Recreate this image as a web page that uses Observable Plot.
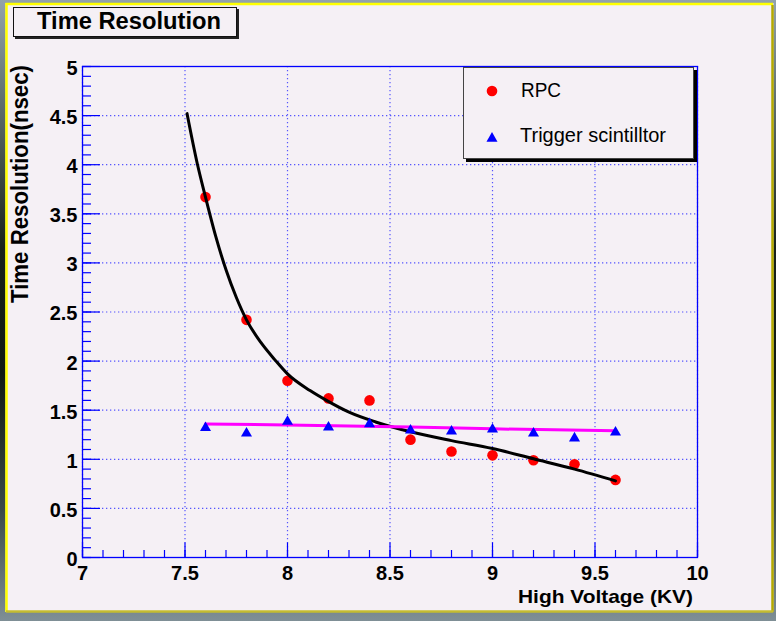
<!DOCTYPE html>
<html><head><meta charset="utf-8">
<script src="https://cdn.jsdelivr.net/npm/d3@7"></script>
<script src="https://cdn.jsdelivr.net/npm/@observablehq/plot@0.6"></script>
<style>
html,body{margin:0;padding:0;}
#wrap{position:relative;width:776px;height:621px;overflow:hidden;
background:linear-gradient(180deg,#93a3ab 0%,#5a6a68 18%,#18221a 40%,#101a12 60%,#3a4a48 82%,#7f8f96 100%);}
#wrap svg{position:absolute;left:0;top:0;}
</style></head><body><div id="wrap"></div>
<script>
// ---- data ----
const voltages = [7.6, 7.8, 8.0, 8.2, 8.4, 8.6, 8.8, 9.0, 9.2, 9.4, 9.6];
const rpcRes   = [3.67, 2.42, 1.80, 1.62, 1.60, 1.20, 1.08, 1.04, 0.99, 0.95, 0.79];
const trigRes  = [1.335, 1.28, 1.40, 1.34, 1.375, 1.31, 1.30, 1.32, 1.28, 1.23, 1.29];
const rpcFitX  = [7.51, 7.56, 7.60, 7.65, 7.70, 7.75, 7.80, 7.87, 7.94, 8.0, 8.11, 8.19, 8.30, 8.43, 8.60, 8.80, 9.0, 9.2, 9.4, 9.6];
const rpcFitY  = [4.52, 4.01, 3.67, 3.27, 2.93, 2.65, 2.42, 2.19, 2.01, 1.87, 1.70, 1.60, 1.48, 1.38, 1.28, 1.19, 1.11, 1.005, 0.90, 0.78];
const trigFitX = [7.6, 8.0, 8.6, 9.0, 9.6];
const trigFitY = [1.36, 1.35, 1.33, 1.31, 1.29];
const xMajor = [7, 7.5, 8, 8.5, 9, 9.5, 10];
const yMajor = [0, 0.5, 1, 1.5, 2, 2.5, 3, 3.5, 4, 4.5, 5];
const xTickLabels = ["7", "7.5", "8", "8.5", "9", "9.5", "10"];
const yTickLabels = ["0", "0.5", "1", "1.5", "2", "2.5", "3", "3.5", "4", "4.5", "5"];
const seriesNames = ["RPC", "Trigger scintilltor"];
const titleText = "Time Resolution";
const xTitle = "High Voltage (KV)";
const yTitle = "Time Resolution(nsec)";

const xMinor = d3.range(70, 101).map(d => d / 10);
const yMinor = d3.range(0, 51).map(d => d / 10);

const rpc = voltages.map((v, i) => ({x: v, y: rpcRes[i]}));
const trig = voltages.map((v, i) => ({x: v, y: trigRes[i]}));
const rpcFit = rpcFitX.map((v, i) => ({x: v, y: rpcFitY[i]}));
const trigFit = trigFitX.map((v, i) => ({x: v, y: trigFitY[i]}));

const BLUE = "#0000ff";
const GRID = "#3a3aff";
const FONT = "Liberation Sans, Arial, sans-serif";
const tickFont = {fontFamily: FONT, fontWeight: "bold", fontSize: 20};

const chart = Plot.plot({
  width: 776, height: 621,
  marginLeft: 82, marginRight: 79, marginTop: 66, marginBottom: 64,
  style: {background: "transparent", color: "black", overflow: "visible"},
  x: {domain: [7, 10]},
  y: {domain: [0, 5]},
  marks: [
    Plot.gridX(xMajor, {stroke: GRID, strokeOpacity: 0.85, strokeDasharray: "1.3,2.7", strokeWidth: 1.2}),
    Plot.gridY(yMajor, {stroke: GRID, strokeOpacity: 0.85, strokeDasharray: "1.3,2.7", strokeWidth: 1.2}),
    Plot.frame({stroke: BLUE, strokeWidth: 1.3}),
    Plot.axisX(xMinor, {anchor: "bottom", tickSize: -7, tickFormat: () => "", stroke: BLUE, strokeWidth: 1.2, label: null}),
    Plot.axisX(xMajor, {anchor: "bottom", tickSize: -14.5, tickFormat: () => "", stroke: BLUE, strokeWidth: 1.2, label: null}),
    Plot.axisY(yMinor, {anchor: "left", tickSize: -9, tickFormat: () => "", stroke: BLUE, strokeWidth: 1.2, label: null}),
    Plot.axisY(yMajor, {anchor: "left", tickSize: -18, tickFormat: () => "", stroke: BLUE, strokeWidth: 1.2, label: null}),
    Plot.axisX(xMajor, {anchor: "bottom", tickSize: 0, tickPadding: 8, tickFormat: (d, i) => xTickLabels[i], label: null, ...tickFont}),
    Plot.axisY(yMajor, {anchor: "left", tickSize: 0, tickPadding: 5, dy: 2, tickFormat: (d, i) => yTickLabels[i], label: null, ...tickFont}),
    Plot.dot(rpc, {x: "x", y: "y", r: 5.3, fill: "#ff0000"}),
    Plot.line(rpcFit, {x: "x", y: "y", stroke: "black", strokeWidth: 3, curve: "monotone-x"}),
    Plot.line(trigFit, {x: "x", y: "y", stroke: "#ff00ff", strokeWidth: 3}),
    Plot.dot(trig, {x: "x", y: "y", r: 4.1, symbol: "triangle", fill: BLUE, dy: 1.5})
  ]
});

const svg = d3.select(chart);
// canvas background (ROOT pad)
const bg = svg.insert("g", ":first-child");
bg.append("rect").attr("x", 5.5).attr("y", 3).attr("width", 768).attr("height", 609).attr("fill", "#f5f0f5");
bg.append("line").attr("x1", 5.5).attr("y1", 4).attr("x2", 773).attr("y2", 4).attr("stroke", "#ffff00").attr("stroke-width", 2.5);
bg.append("line").attr("x1", 6.5).attr("y1", 3).attr("x2", 6.5).attr("y2", 612).attr("stroke", "#ffff00").attr("stroke-width", 2.5);
bg.append("line").attr("x1", 772.5).attr("y1", 5).attr("x2", 772.5).attr("y2", 612).attr("stroke", "#b4aa00").attr("stroke-width", 2.5);
bg.append("line").attr("x1", 6).attr("y1", 611.5).attr("x2", 773).attr("y2", 611.5).attr("stroke", "#c4bc30").attr("stroke-width", 2.5);

const fg = svg.append("g").attr("text-anchor", "start");
// title box
fg.append("rect").attr("x", 15).attr("y", 9).attr("width", 224).attr("height", 30).attr("fill", "#222");
fg.append("rect").attr("x", 13.5).attr("y", 7.5).attr("width", 223).attr("height", 29).attr("fill", "#f5f0f5").attr("stroke", "#111").attr("stroke-width", 1);
fg.append("text").attr("x", 37).attr("y", 28.5).attr("text-anchor", "start").attr("font-family", FONT)
  .attr("font-weight", "bold").attr("font-size", 23.5).attr("textLength", 184).attr("lengthAdjust", "spacingAndGlyphs")
  .attr("fill", "black").text(titleText);

// legend
fg.append("rect").attr("x", 466).attr("y", 70).attr("width", 231).attr("height", 92).attr("fill", "#000");
fg.append("rect").attr("x", 463.5).attr("y", 67.5).attr("width", 230).attr("height", 91).attr("fill", "#f5f0f5").attr("stroke", "#444").attr("stroke-width", 1);
fg.append("circle").attr("cx", 492).attr("cy", 91).attr("r", 5.3).attr("fill", "#ff0000");
fg.append("path").attr("d", d3.symbol(d3.symbolTriangle, Math.PI * 4.1 * 4.1)()).attr("transform", "translate(492,138.5)").attr("fill", BLUE);
fg.append("text").attr("x", 521).attr("y", 96.5).attr("text-anchor", "start").attr("font-family", FONT)
  .attr("font-size", 19.5).attr("textLength", 40).attr("lengthAdjust", "spacingAndGlyphs").attr("fill", "black").text(seriesNames[0]);
fg.append("text").attr("x", 520).attr("y", 141.5).attr("text-anchor", "start").attr("font-family", FONT)
  .attr("font-size", 20).attr("textLength", 146).attr("lengthAdjust", "spacingAndGlyphs").attr("fill", "black").text(seriesNames[1]);

// axis titles
fg.append("text").attr("transform", "translate(28,65) rotate(-90)").attr("text-anchor", "end")
  .attr("font-family", FONT).attr("font-weight", "bold").attr("font-size", 24)
  .attr("textLength", 238).attr("lengthAdjust", "spacingAndGlyphs").attr("fill", "black").text(yTitle);
fg.append("text").attr("x", 518).attr("y", 603).attr("text-anchor", "start")
  .attr("font-family", FONT).attr("font-weight", "bold").attr("font-size", 18.5)
  .attr("textLength", 175).attr("lengthAdjust", "spacingAndGlyphs").attr("fill", "black").text(xTitle);

document.getElementById("wrap").appendChild(chart);
</script>
</body></html>
